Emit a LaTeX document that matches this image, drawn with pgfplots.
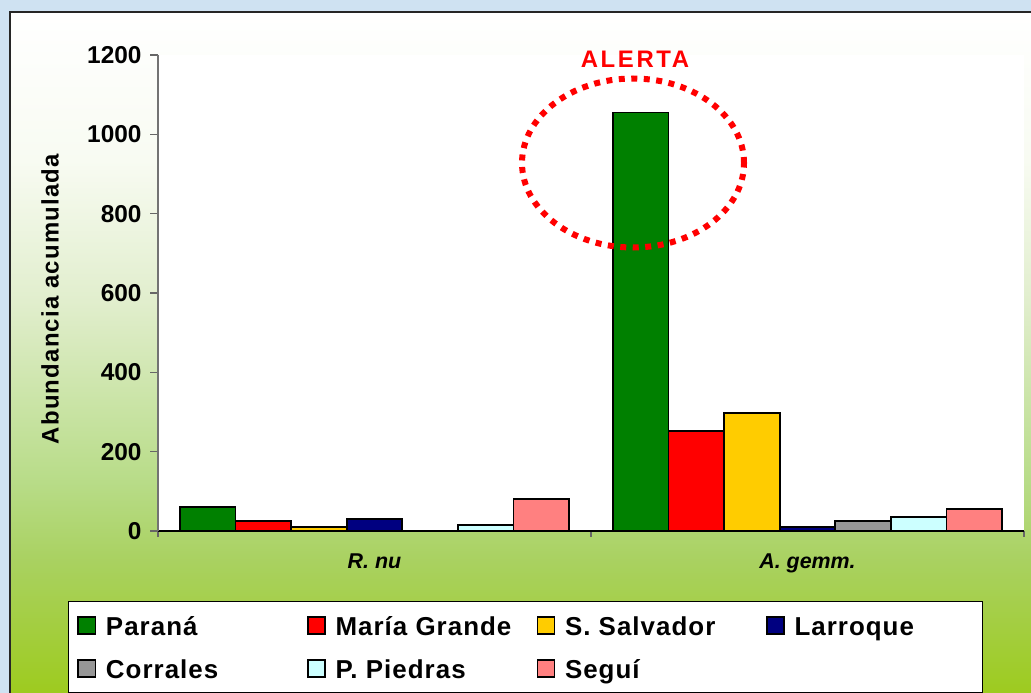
\documentclass[border=0pt]{standalone}
\usepackage{fontspec}
\setmainfont{Liberation Sans}
\newfontfamily\legfont{Liberation Sans}[LetterSpace=4]
\newfontfamily\ylabfont{Liberation Sans}[LetterSpace=5]
\newfontfamily\alertfont{Liberation Sans}[LetterSpace=11]
\usepackage{pgfplots}
\usepackage{pgfplotstable}
\pgfplotsset{compat=1.18}
\definecolor{bgblue}{RGB}{207,226,242}
\definecolor{gA}{RGB}{157,203,30}
\definecolor{gB}{RGB}{169,209,96}
\definecolor{gC}{RGB}{184,220,136}
\definecolor{gD}{RGB}{225,238,205}
\definecolor{gE}{RGB}{248,251,242}
\definecolor{gF}{RGB}{255,255,255}
\definecolor{cParana}{RGB}{0,128,0}
\definecolor{cMaria}{RGB}{255,0,0}
\definecolor{cSalv}{RGB}{255,204,0}
\definecolor{cLarr}{RGB}{0,0,128}
\definecolor{cCorr}{RGB}{150,150,150}
\definecolor{cPied}{RGB}{204,255,255}
\definecolor{cSegui}{RGB}{255,128,128}
\pgfdeclareverticalshading{bggrad}{100bp}{color(0bp)=(gA); color(25bp)=(gA); color(34.75bp)=(gB); color(40.65bp)=(gC); color(53.85bp)=(gD); color(64.15bp)=(gE); color(75bp)=(gF); color(100bp)=(gF)}
\pgfplotstableread{
x parana maria salv larr corr pied segui
0 60 25 10 30 0 15 80
1 1055 252 298 10 25 35 55
}\datatable
\begin{document}
\begin{tikzpicture}[x=1bp,y=1bp]
\useasboundingbox (0,0) rectangle (1031,693);
\fill[bgblue] (0,0) rectangle (1031,693);
\shade[shading=bggrad] (10,-2) rectangle (1033,681);
\draw[black!85, line width=1.2bp] (10,-2) -- (10,681) -- (1033,681);
\begin{axis}[
  at={(158bp,162bp)}, anchor=south west,
  width=866bp, height=476bp, scale only axis,
  clip=false,
  xmin=-0.5, xmax=1.5, ymin=0, ymax=1200,
  axis background/.style={fill=white},
  axis x line*=bottom, axis y line*=left,
  x axis line style={black, line width=1.5bp},
  y axis line style={black!55, line width=1.5bp},
  ybar=0pt, bar width=55.6bp,
  xtick={0,1}, xticklabels={{\textit{R. nu}},{\textit{A. gemm.}}},
  minor xtick={-0.5,0.5,1.5},
  major x tick style={draw=none},
  minor x tick style={black!60, line width=1.5bp},
  minor tick length=6bp,
  ytick={0,200,...,1200},
  ytick style={black!60, line width=1.2bp},
  major tick length=8bp,
  tick align=outside,
  /pgf/number format/assume math mode=true,
  /pgf/number format/set thousands separator={},
  yticklabel style={font=\fontsize{24.5}{24.5}\selectfont\bfseries, xshift=-5bp},
  xticklabel style={font=\fontsize{21.5}{21.5}\selectfont\bfseries, anchor=base, yshift=-30bp},
  ylabel={\ylabfont\fontsize{24}{24}\selectfont\bfseries Abundancia acumulada},
  ylabel style={at={(axis description cs:-0.1247,0.487)}, anchor=center},
  legend columns=4,
  legend style={at={(axis description cs:-0.10393,-0.14706)}, anchor=north west,
    draw=black, line width=1bp, fill=white, inner xsep=9bp, inner ysep=14bp,
    font=\legfont\fontsize{26}{26}\selectfont\bfseries,
    nodes={inner sep=0pt, text height=20bp, text depth=0bp},
    column sep=0pt, row sep=23bp,
    /tikz/every odd column/.append style={column sep=10bp}},
  legend image code/.code={\draw[#1, draw=black, line width=1.5bp] (0bp,-8.5bp) rectangle (17bp,8.5bp);},
]
\addplot[fill=cParana, draw=black, line width=1.7bp] table[x=x, y=parana] {\datatable};
\addplot[fill=cMaria, draw=black, line width=1.7bp] table[x=x, y=maria] {\datatable};
\addplot[fill=cSalv, draw=black, line width=1.7bp] table[x=x, y=salv] {\datatable};
\addplot[fill=cLarr, draw=black, line width=1.7bp] table[x=x, y=larr] {\datatable};
\addplot[fill=cCorr, draw=black, line width=1.7bp] table[x=x, y=corr] {\datatable};
\addplot[fill=cPied, draw=black, line width=1.7bp] table[x=x, y=pied] {\datatable};
\addplot[fill=cSegui, draw=black, line width=1.7bp] table[x=x, y=segui] {\datatable};
\addlegendentry{\makebox[201bp][l]{Paraná}}
\addlegendentry{\makebox[201bp][l]{María Grande}}
\addlegendentry{\makebox[201bp][l]{S. Salvador}}
\addlegendentry{\makebox[179bp][l]{Larroque}}
\addlegendentry{\makebox[201bp][l]{Corrales}}
\addlegendentry{\makebox[201bp][l]{P. Piedras}}
\addlegendentry{\makebox[201bp][l]{Seguí}}
\node[text=red, font=\alertfont\fontsize{24}{24}\selectfont\bfseries] at (axis cs:0.6016,1190) {ALERTA};
\draw[red, line width=6bp, dash pattern=on 6bp off 6.5bp] (axis cs:0.597,927.7) ellipse [x radius=111bp, y radius=84.5bp];
\end{axis}
\end{tikzpicture}
\end{document}
